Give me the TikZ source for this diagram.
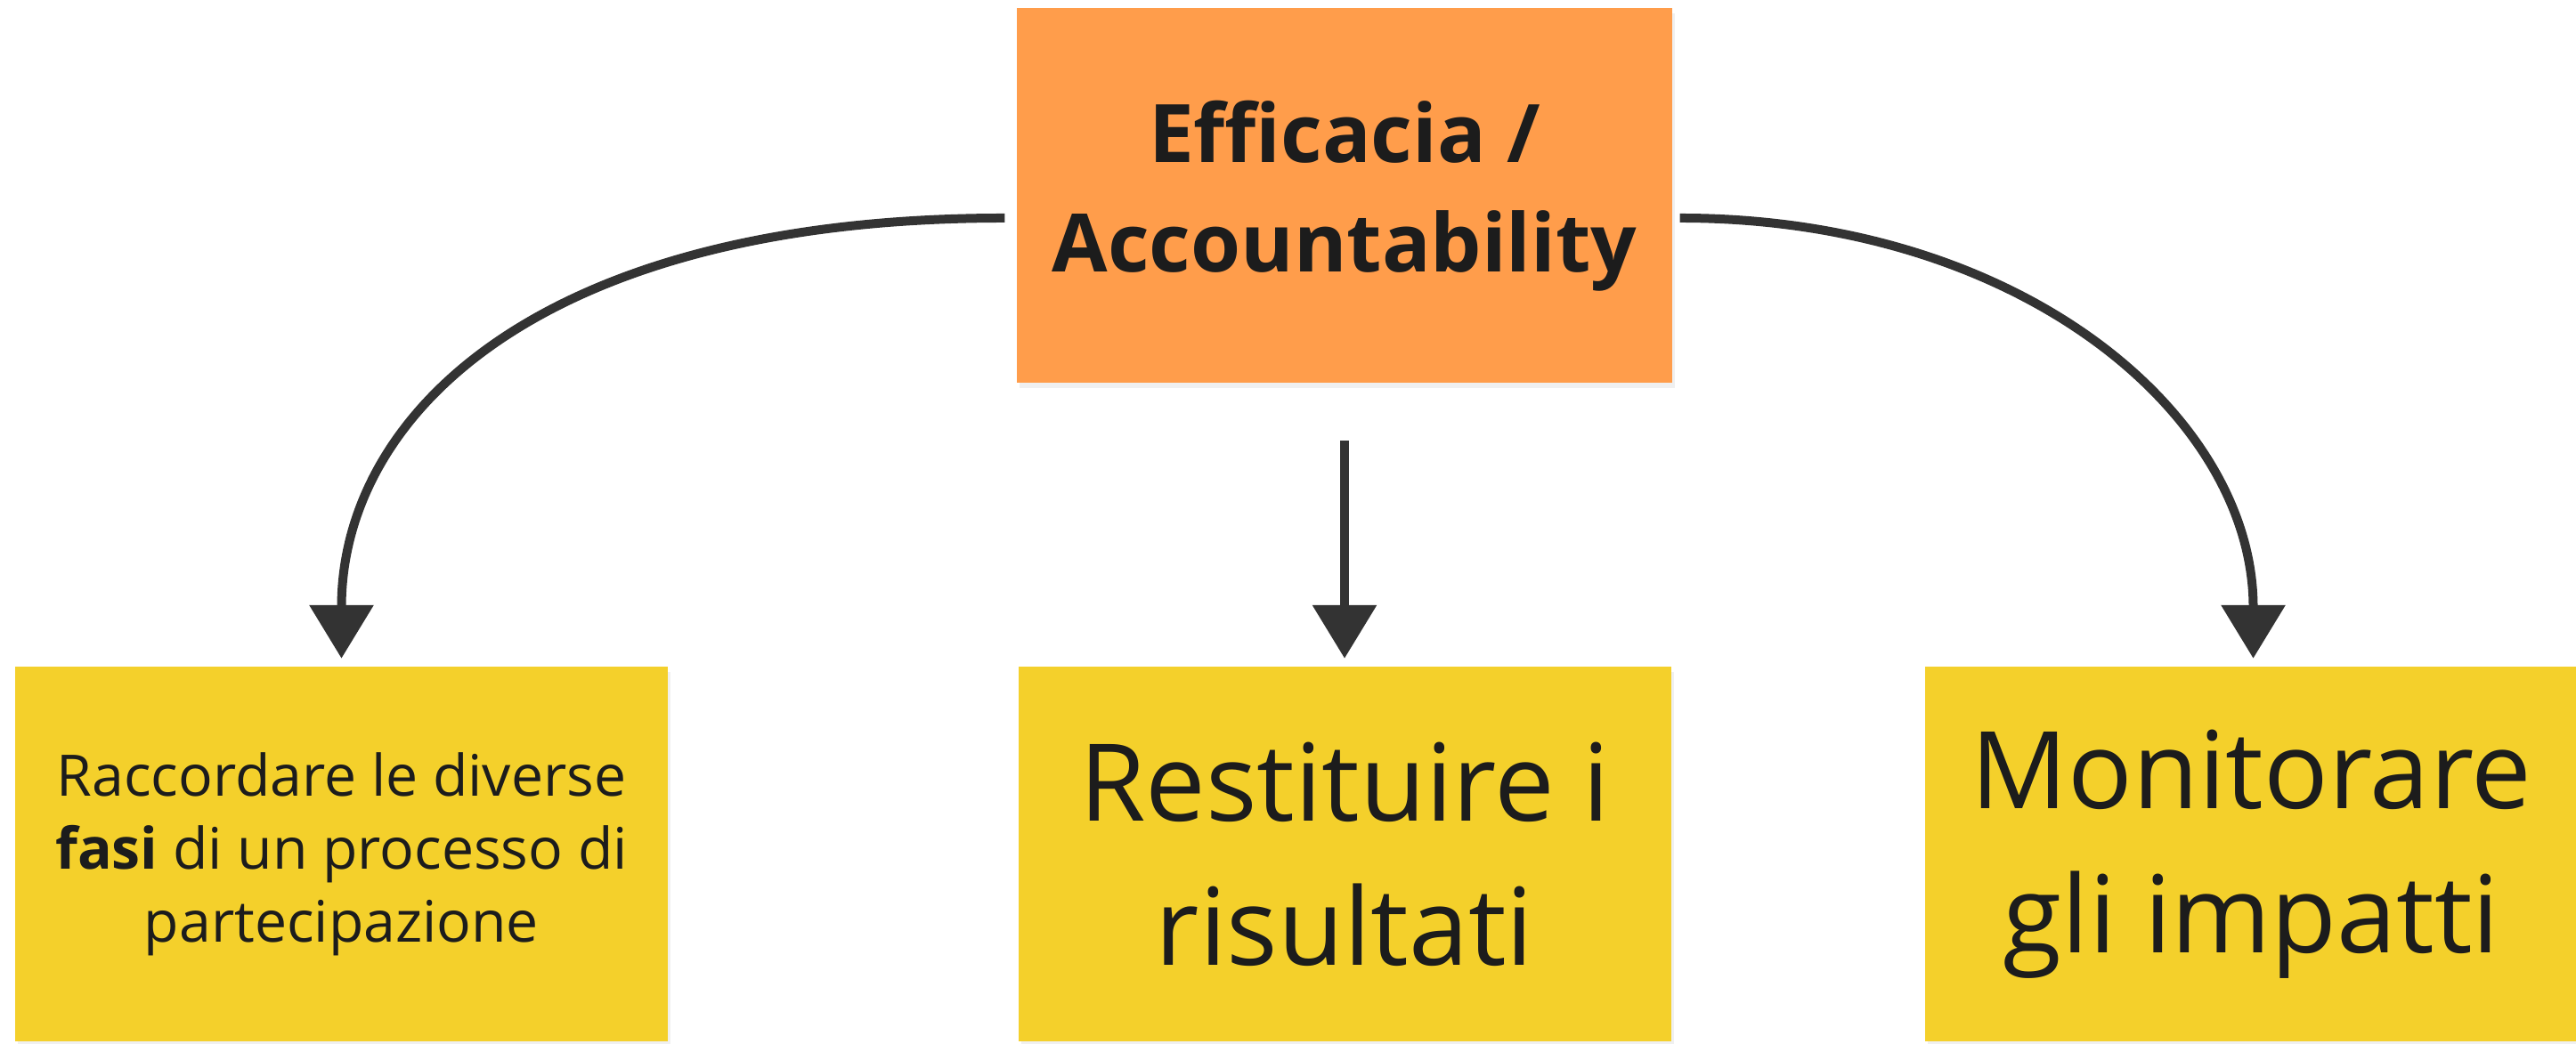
\documentclass[tikz,border=0pt]{standalone}
\usepackage{fontspec}
\setmainfont{Open Sans}
\usetikzlibrary{arrows.meta,positioning,calc,shadows}

\definecolor{noteorange}{HTML}{FF9D4B}
\definecolor{noteyellow}{HTML}{F4D02B}
\definecolor{inkgray}{HTML}{333333}
\definecolor{textgray}{HTML}{1C1C1C}

\begin{document}
\begin{tikzpicture}[
    note/.style={rectangle, minimum width=7.33cm, minimum height=4.21cm,
                 align=center, text=textgray, inner sep=0pt,
                 drop shadow={shadow xshift=0.03cm, shadow yshift=-0.06cm, opacity=0.12}},
    topnote/.style={note, fill=noteorange, minimum width=7.36cm,
                    font=\bfseries\fontsize{25.8}{35}\selectfont},
    subnote/.style={note, fill=noteyellow},
    link/.style={-{Triangle[width=0.7cm, length=0.6cm]}, line width=0.1cm,
                 draw=inkgray, shorten >=0.09cm}
]
\useasboundingbox (0,0) rectangle (28.93,11.73);

% Main topic
\node[topnote] (efficacia) at (15.10, 9.53) {Efficacia /\\Accountability};

% Sub topics
\node[subnote, font=\fontsize{18.3}{23.3}\selectfont] (raccordare) at (3.835, 2.13)
    {Raccordare le diverse\\\textbf{fasi} di un processo di\\partecipazione};
\node[subnote, font=\fontsize{34.3}{46}\selectfont] (restituire) at (15.10, 2.13)
    {Restituire i\\risultati};
\node[subnote, font=\fontsize{34.3}{46}\selectfont] (monitorare) at (25.285, 2.13)
    {Monitorare\\gli impatti};

% Arrows
\draw[link] ([shift={(-0.13,-0.25)}]efficacia.west)
    .. controls +(-5.23,0) and +(0,2.82) .. (raccordare.north);
\draw[link] ([yshift=-0.64cm]efficacia.south) -- (restituire.north);
\draw[link] ([shift={(0.08,-0.25)}]efficacia.east)
    .. controls +(3.86,0) and +(0,2.8) .. ([xshift=0.02cm]monitorare.north);

\end{tikzpicture}
\end{document}
